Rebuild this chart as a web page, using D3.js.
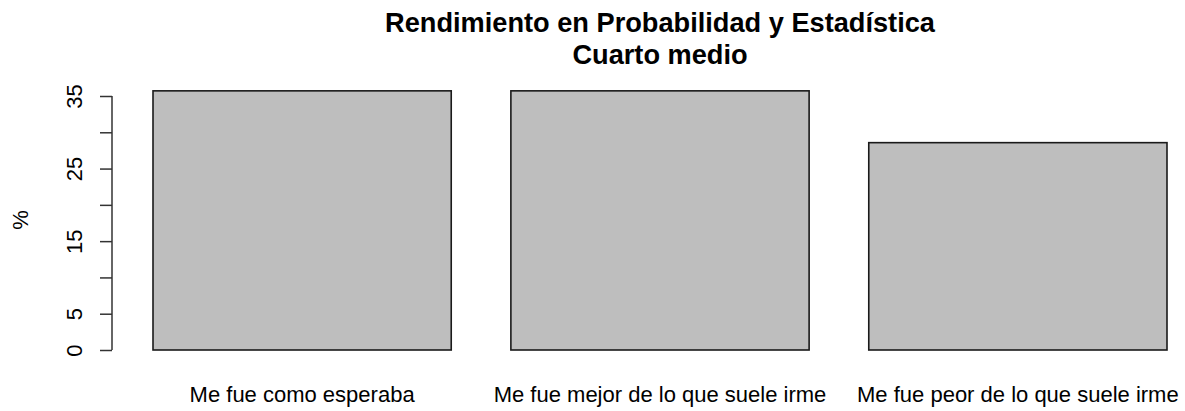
<!DOCTYPE html>
<html>
<head>
<meta charset="utf-8">
<script src="https://cdn.jsdelivr.net/npm/d3@7"></script>
<style>
  html, body { margin: 0; padding: 0; background: #fff; }
  svg { display: block; }
  text { font-family: "Liberation Sans", Arial, sans-serif; fill: #000; }
</style>
</head>
<body>
<svg id="chart" width="1185" height="411"></svg>
<script>
const categories = ["Me fue como esperaba", "Me fue mejor de lo que suele irme", "Me fue peor de lo que suele irme"];
const values = [35.71, 35.71, 28.57];
const tickValues = [0, 5, 10, 15, 20, 25, 30, 35];
const tickLabels = ["0", "5", "", "15", "", "25", "", "35"];
const titleLines = ["Rendimiento en Probabilidad y Estadística", "Cuarto medio"];
const yLabel = "%";

const svg = d3.select("#chart");

const x = d3.scaleBand()
  .domain(categories)
  .range([153, 1167])
  .paddingInner(1 / 6)
  .paddingOuter(0);

const y = d3.scaleLinear()
  .domain([0, 35])
  .range([350, 96]);

// bars
svg.append("g").selectAll("rect")
  .data(categories)
  .join("rect")
  .attr("x", d => x(d))
  .attr("y", (d, i) => y(values[i]))
  .attr("width", x.bandwidth())
  .attr("height", (d, i) => y(0) - y(values[i]))
  .attr("fill", "#bebebe")
  .attr("stroke", "#1a1a1a")
  .attr("stroke-width", 1.6);

// y axis
const yAxis = d3.axisLeft(y)
  .tickValues(tickValues)
  .tickSize(12)
  .tickPadding(0)
  .tickFormat((d, i) => tickLabels[i]);

const gy = svg.append("g")
  .attr("transform", "translate(112,0)")
  .call(yAxis);
gy.select(".domain").attr("stroke", "#333").attr("stroke-width", 1.5).attr("d", `M0,${y(0)}V${y(35)}`);
gy.selectAll(".tick line").attr("stroke", "#333").attr("stroke-width", 1.5);
gy.selectAll(".tick text")
  .attr("x", null).attr("dy", null)
  .attr("transform", "translate(-30,0) rotate(-90)")
  .attr("text-anchor", "middle")
  .style("font-size", "22px")
  .style("font-family", "'Liberation Sans', Arial, sans-serif")
  .attr("fill", "#000");

// x labels
svg.append("g").selectAll("text")
  .data(categories)
  .join("text")
  .attr("x", d => x(d) + x.bandwidth() / 2)
  .attr("y", 402)
  .attr("text-anchor", "middle")
  .style("font-size", "22px")
  .text(d => d);

// y label
svg.append("text")
  .attr("transform", "translate(28,220) rotate(-90)")
  .attr("text-anchor", "middle")
  .style("font-size", "22px")
  .text(yLabel);

// title
svg.append("g").selectAll("text")
  .data(titleLines)
  .join("text")
  .attr("x", (x.range()[0] + x.range()[1]) / 2)
  .attr("y", (d, i) => 31.5 + i * 32)
  .attr("text-anchor", "middle")
  .style("font-size", "27.2px")
  .style("font-weight", "bold")
  .text(d => d);
</script>
</body>
</html>
